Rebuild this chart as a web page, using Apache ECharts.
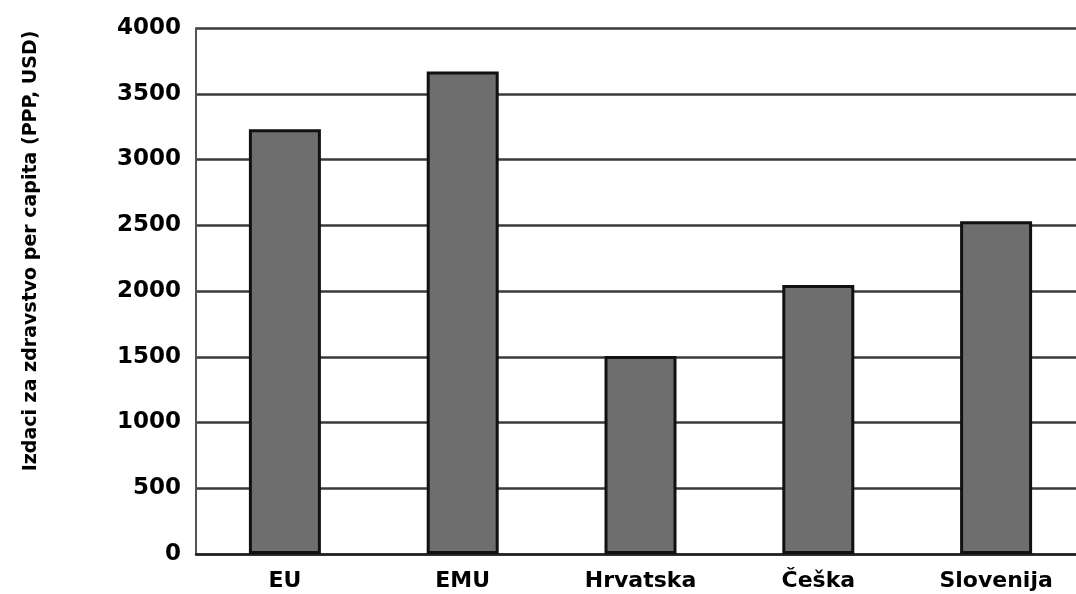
<!DOCTYPE html>
<html>
<head>
<meta charset="utf-8">
<script src="https://cdn.jsdelivr.net/npm/echarts@6/dist/echarts.min.js"></script>
<style>html,body{margin:0;padding:0;background:#fff;}#c{width:1076px;height:594px;}</style>
</head>
<body>
<div id="c"></div>
<script>
const categories = ['EU', 'EMU', 'Hrvatska', 'Češka', 'Slovenija'];
const values = [3230, 3670, 1505, 2045, 2530];
const yTicks = { min: 0, max: 4000, interval: 500 };
const yName = 'Izdaci za zdravstvo per capita (PPP, USD)';

const FONT = 'DejaVu Sans';
const chart = echarts.init(document.getElementById('c'));
chart.setOption({
  backgroundColor: '#fff',
  animation: false,
  grid: { left: 196, top: 28, bottom: 40, right: -9, containLabel: false, outerBoundsMode: 'none' },
  xAxis: {
    type: 'category',
    data: categories,
    axisLine: { show: true, lineStyle: { color: '#222', width: 2.5 } },
    axisTick: { show: false },
    axisLabel: { color: '#000', fontFamily: FONT, fontWeight: 'bold', fontSize: 22, margin: 16 }
  },
  yAxis: {
    type: 'value',
    min: yTicks.min, max: yTicks.max, interval: yTicks.interval,
    name: yName,
    nameLocation: 'middle',
    nameGap: 155,
    nameTextStyle: { color: '#000', fontFamily: FONT, fontWeight: 'bold', fontSize: 19, padding: [0, 0, 0, 80] },
    axisLine: { show: true, lineStyle: { color: '#555', width: 2 } },
    axisTick: { show: false },
    axisLabel: { color: '#000', fontFamily: FONT, fontWeight: 'bold', fontSize: 23, margin: 15, formatter: v => String(v) },
    splitLine: { show: true, lineStyle: { color: '#3a3a3a', width: 2.5 } }
  },
  series: [{
    type: 'bar',
    data: values,
    barWidth: 72,
    itemStyle: { color: '#6e6e6e', borderColor: '#111', borderWidth: 3 }
  }]
});
</script>
</body>
</html>
